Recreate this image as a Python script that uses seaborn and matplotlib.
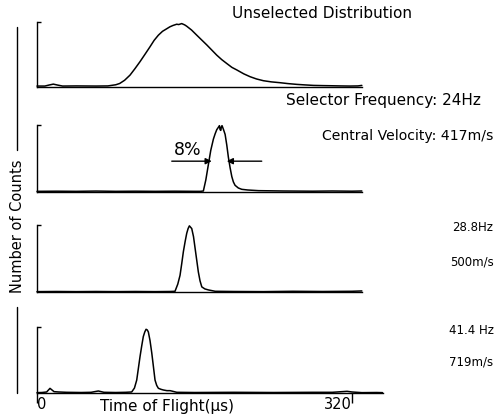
import matplotlib
matplotlib.use("Agg")
import matplotlib.pyplot as plt
from matplotlib.lines import Line2D
import seaborn as sns

# Time of flight (microseconds) and normalised counts for each trace
t_unsel = [0, 8, 12, 16.6, 21, 26, 40, 60, 72, 80, 84, 89, 94.5, 99.5, 104.7, 110,
           114.8, 119, 123.3, 127.5, 131.8, 135, 138, 141.9, 144, 147, 150, 152, 157,
           162.3, 167, 172.4, 177.5, 182.6, 187.7, 192.8, 198, 203, 210, 216.5, 223,
           230, 238, 247, 255, 264, 272, 281, 290, 298, 308, 318, 326, 330]
c_unsel = [0.01, 0.01, 0.025, 0.04, 0.025, 0.01, 0.012, 0.01, 0.012, 0.03, 0.05, 0.1,
           0.18, 0.28, 0.39, 0.51, 0.62, 0.72, 0.80, 0.86, 0.90, 0.93, 0.95, 0.97,
           0.965, 0.98, 0.96, 0.94, 0.88, 0.80, 0.73, 0.65, 0.57, 0.49, 0.42, 0.36,
           0.30, 0.26, 0.20, 0.155, 0.12, 0.093, 0.075, 0.062, 0.048, 0.036, 0.028,
           0.02, 0.017, 0.015, 0.012, 0.01, 0.012, 0.02]

t_24 = [0, 20, 40, 60, 80, 100, 120, 140, 160, 166, 169, 171.5, 174.1, 176.5, 179.2,
        181, 182.6, 184, 185.3, 186.0, 186.7, 187.4, 188.0, 189.5, 191.1, 192.8, 194.4,
        196.2, 197.9, 199.5, 201.2, 204.5, 208, 214, 225, 250, 280, 300, 320, 330]
c_24 = [0.01, 0.012, 0.01, 0.014, 0.01, 0.012, 0.01, 0.012, 0.01, 0.01, 0.015, 0.18,
        0.41, 0.62, 0.79, 0.87, 0.93, 0.96, 0.99, 0.93, 0.92, 0.98, 0.99, 0.93, 0.86,
        0.70, 0.52, 0.36, 0.23, 0.15, 0.10, 0.06, 0.04, 0.03, 0.02, 0.015, 0.012,
        0.015, 0.012, 0.015]

t_288 = [0, 20, 40, 60, 80, 100, 120, 135, 140.2, 143, 145.3, 147, 148.7, 150.5, 152.1,
         153.5, 154.8, 156, 157.2, 159, 160.6, 162.3, 163.9, 165.6, 167.4, 170.5, 174.1,
         181, 200, 230, 260, 290, 320, 330]
c_288 = [0.01, 0.012, 0.01, 0.012, 0.01, 0.012, 0.01, 0.012, 0.015, 0.12, 0.25, 0.42,
         0.60, 0.75, 0.87, 0.94, 0.98, 0.96, 0.94, 0.82, 0.65, 0.47, 0.30, 0.17, 0.08,
         0.05, 0.035, 0.015, 0.012, 0.01, 0.015, 0.012, 0.015, 0.02]

t_414 = [0, 5, 9.8, 13.2, 17.3, 22, 30, 45, 55, 62.3, 68, 80, 90, 96.2, 99, 101.3, 103,
         104.7, 106.4, 108.0, 109.5, 110.8, 112, 113.1, 114.8, 116.6, 118.3, 119.9,
         121.6, 123.3, 126, 128.4, 132, 135.2, 138, 142, 160, 200, 240, 280, 300, 310,
         315, 320, 330, 345, 351]
c_414 = [0.01, 0.012, 0.02, 0.075, 0.025, 0.02, 0.015, 0.012, 0.015, 0.035, 0.015,
         0.012, 0.015, 0.02, 0.08, 0.20, 0.38, 0.56, 0.72, 0.86, 0.93, 0.97, 0.96, 0.93,
         0.80, 0.61, 0.40, 0.20, 0.12, 0.076, 0.06, 0.05, 0.04, 0.04, 0.03, 0.015, 0.012,
         0.015, 0.012, 0.015, 0.015, 0.025, 0.03, 0.02, 0.01, 0.012, 0.01]

x_ticks = [0, 320]
x_ticklabels = ["0", "320"]
baseline_end = [330, 330, 330, 351]

sns.set_style("white")
plt.rcParams["font.family"] = ["DejaVu Sans"]
plt.rcParams["text.color"] = "black"
plt.rcParams["xtick.color"] = "black"
plt.rcParams["ytick.color"] = "black"
plt.rcParams["xtick.labelcolor"] = "black"

W, H = 500, 418
fig = plt.figure(figsize=(W / 100, H / 100), dpi=100)

# panel vertical extents in pixels (top of bracket, baseline)
panel_px = [(22.3, 86.7), (125.0, 192.0), (224.5, 292.3), (327.3, 393.3)]
x0_px, x1_px = 37.0, 383.0
px_per_us = (352.0 - 37.0) / 320.0
xmax = (x1_px - x0_px) / px_per_us

traces = [(t_unsel, c_unsel), (t_24, c_24), (t_288, c_288), (t_414, c_414)]
axes = []
for i, ((ytop, ybot), (tt, cc)) in enumerate(zip(panel_px, traces)):
    ax = fig.add_axes([x0_px / W, 1 - ybot / H, (x1_px - x0_px) / W, (ybot - ytop) / H])
    ax.set_facecolor("none")
    sns.lineplot(x=tt, y=cc, ax=ax, color="black", linewidth=1.1, clip_on=False)
    ax.set_xlim(0, xmax)
    ax.set_ylim(0, 1)
    for s in ["top", "right"]:
        ax.spines[s].set_visible(False)
    ax.spines["left"].set_bounds(0, 1)
    ax.spines["bottom"].set_bounds(0, baseline_end[i])
    for s in ["left", "bottom"]:
        ax.spines[s].set_color("black")
        ax.spines[s].set_linewidth(1.0)
    ax.set_yticks([1])
    ax.tick_params(axis="y", direction="in", length=3, width=1.0, labelleft=False,
                   left=True, color="black")
    if i < 3:
        ax.set_xticks([])
    else:
        ax.set_xticks(x_ticks, x_ticklabels)
        ax.tick_params(axis="x", direction="out", length=7, width=1.0, pad=-4.5,
                       labelsize=10.5, bottom=True, color="black", labelcolor="black")
        for lab, ha in zip(ax.get_xticklabels(), ["left", "right"]):
            lab.set_ha(ha)
    ax.set_xlabel("")
    ax.set_ylabel("")
    axes.append(ax)

# FWHM marker on the 24 Hz trace
ax2 = axes[1]
arrow = dict(arrowstyle="-|>", color="black", lw=1.0, mutation_scale=9,
             shrinkA=0, shrinkB=0)
ax2.annotate("", xy=(177.5, 0.46), xytext=(136.9, 0.46), arrowprops=arrow)
ax2.annotate("", xy=(192.8, 0.46), xytext=(228.3, 0.46), arrowprops=arrow)
ax2.text(153, 0.62, "8%", ha="center", va="center", fontsize=12.5, color="black")

# labels
def ftext(xp, yp, s, **kw):
    fig.text(xp / W, 1 - yp / H, s, va="center", color="black", **kw)

ftext(232, 13, "Unselected Distribution", ha="left", fontsize=11)
ftext(286, 101, "Selector Frequency: 24Hz", ha="left", fontsize=11)
ftext(322, 136, "Central Velocity: 417m/s", ha="left", fontsize=10.1)
ftext(452, 228, "28.8Hz", ha="left", fontsize=8.5)
ftext(450, 262, "500m/s", ha="left", fontsize=8.5)
ftext(449, 330, "41.4 Hz", ha="left", fontsize=8.5)
ftext(449, 362, "719m/s", ha="left", fontsize=8.5)
ftext(167.5, 407, "Time of Flight(\u00b5s)", ha="center", fontsize=11)
ftext(18, 226, "Number of Counts", ha="center", rotation=90, fontsize=10.5)

for ya, yb in [(27, 150), (307, 393)]:
    fig.add_artist(Line2D([17 / W, 17 / W], [1 - ya / H, 1 - yb / H],
                          color="black", lw=1.0, transform=fig.transFigure))

fig.savefig("out.png", dpi=100)
